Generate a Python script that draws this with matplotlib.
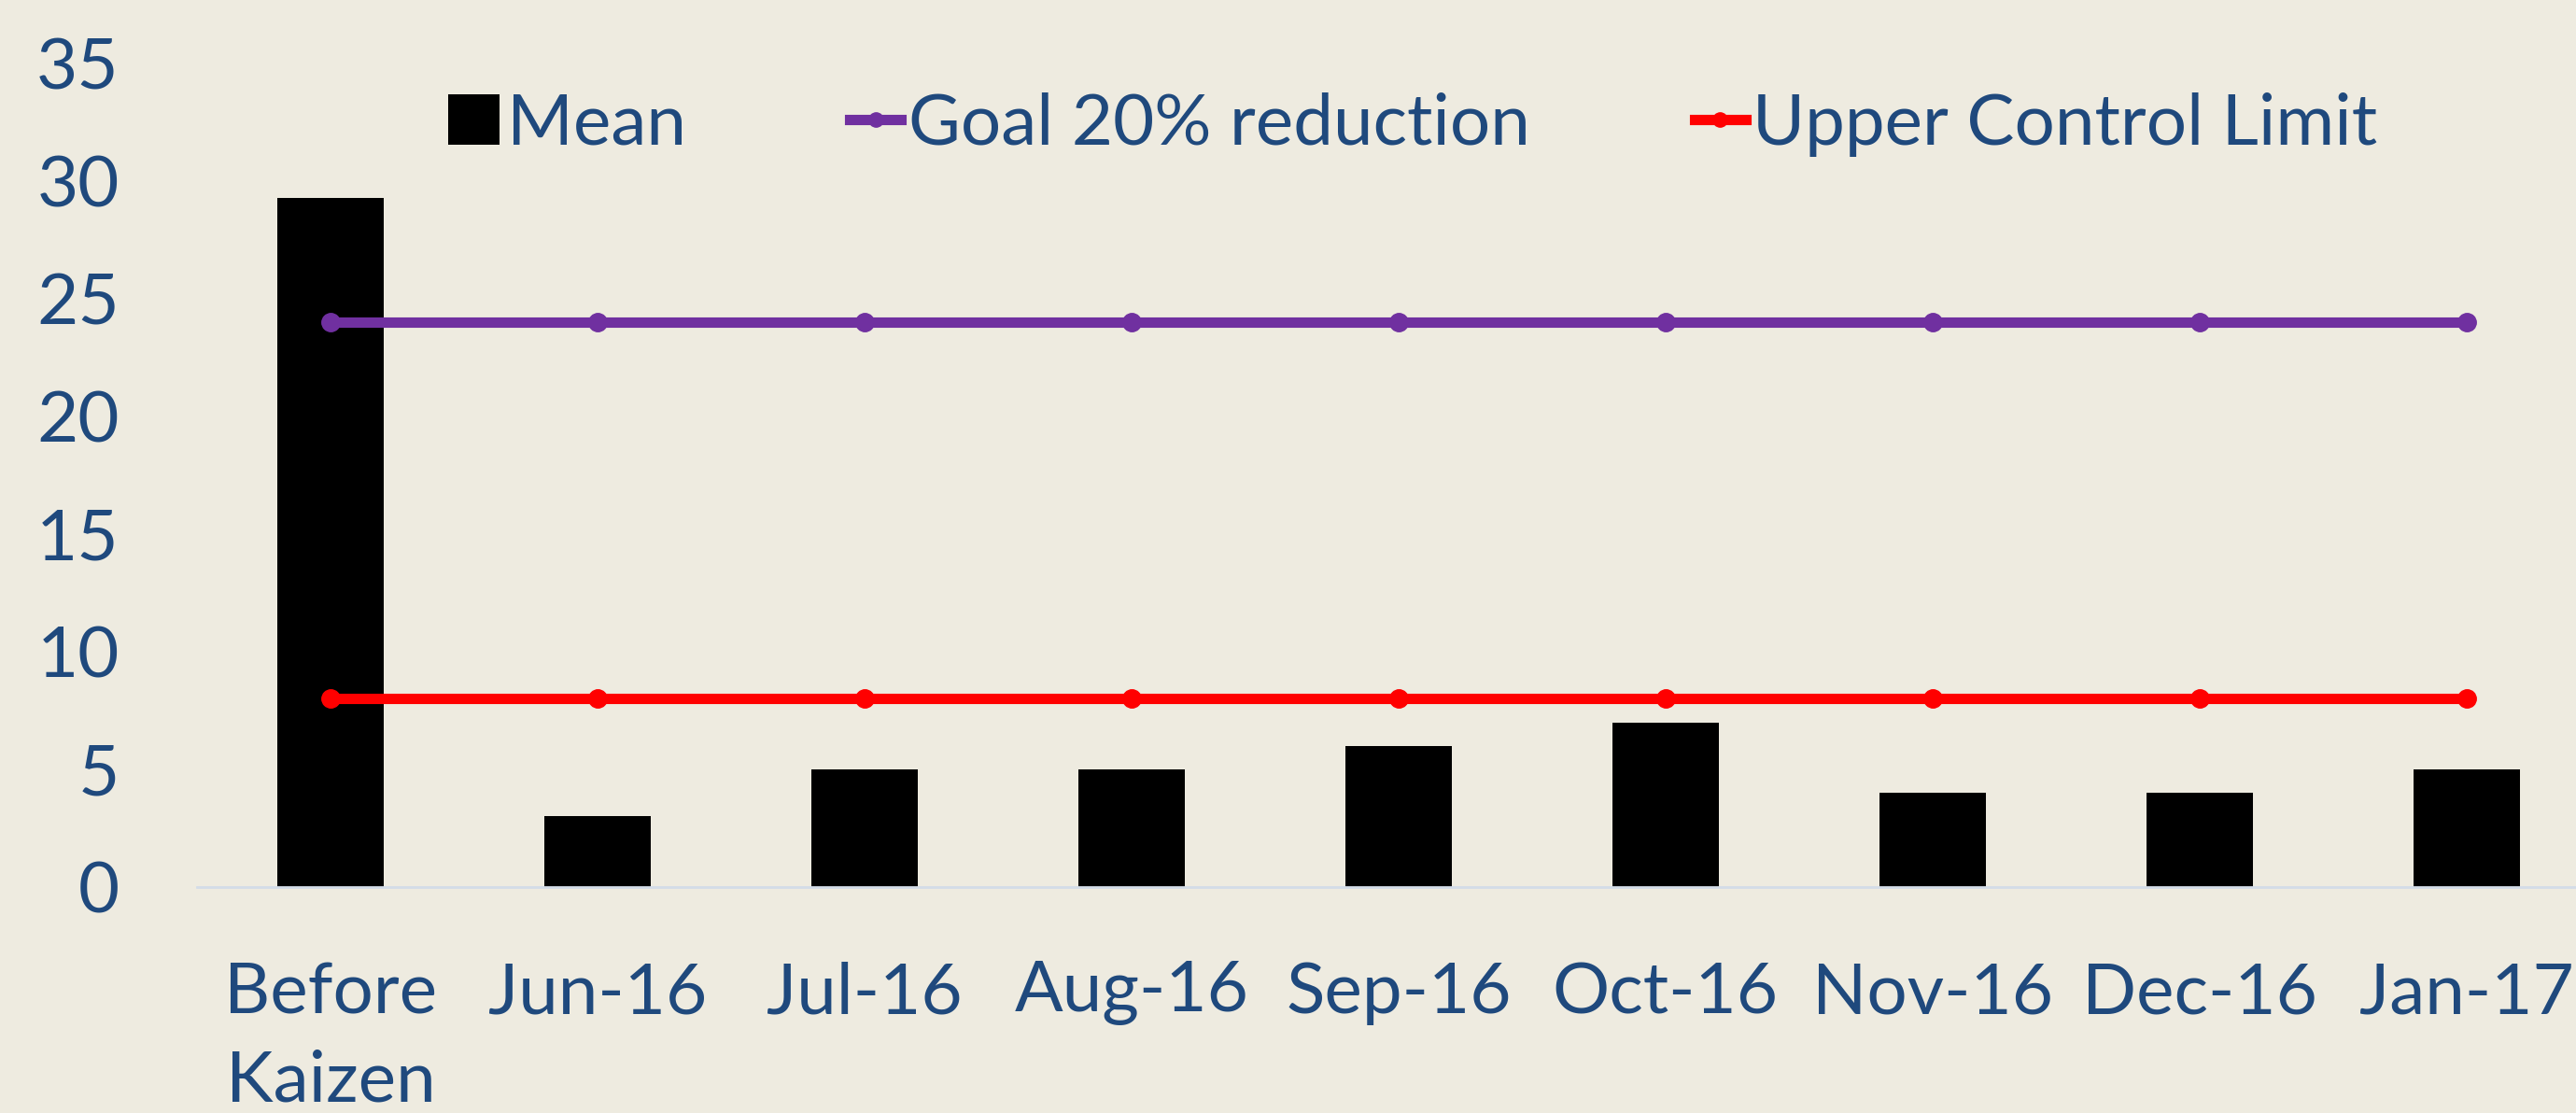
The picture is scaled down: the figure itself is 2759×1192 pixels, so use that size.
import matplotlib
matplotlib.use("Agg")
import matplotlib.pyplot as plt
from matplotlib.patches import Patch
from matplotlib.lines import Line2D
import numpy as np

# values
months = ["Before\nKaizen", "Jun-16", "Jul-16", "Aug-16", "Sep-16",
          "Oct-16", "Nov-16", "Dec-16", "Jan-17"]
mean_vals = [29.3, 3, 5, 5, 6, 7, 4, 4, 5]
goal_vals = [24, 24, 24, 24, 24, 24, 24, 24, 24]
ucl_vals = [8, 8, 8, 8, 8, 8, 8, 8, 8]
yticks = [0, 5, 10, 15, 20, 25, 30, 35]

bg = "#EEEBE0"
txt = "#1F497D"
purple = "#7030A0"
red = "#FF0000"

plt.rcParams["font.family"] = ["Lato", "DejaVu Sans"]

fig = plt.figure(figsize=(27.59, 11.92), dpi=100, facecolor=bg)
ax = fig.add_axes([211 / 2759, 242 / 1192, 1 - 211 / 2759, 882 / 1192])
ax.set_facecolor(bg)

x = np.arange(len(months))
ax.bar(x, mean_vals, width=0.4, color="black", zorder=2)
ax.plot(x, goal_vals, color=purple, lw=8, marker="o", ms=14,
        solid_capstyle="round", zorder=3)
ax.plot(x, ucl_vals, color=red, lw=8, marker="o", ms=14,
        solid_capstyle="round", zorder=3)

ax.set_xlim(-0.5, 8.41)
ax.set_ylim(0, 35)
ax.set_yticks(yticks)
ax.set_xticks(x)
ax.set_xticklabels(months, linespacing=1.45)

for s in ["top", "right", "left"]:
    ax.spines[s].set_visible(False)
ax.spines["bottom"].set_color("#D3DCE8")
ax.spines["bottom"].set_linewidth(2)

ax.tick_params(axis="y", length=0, pad=60, labelsize=55, labelcolor=txt)
ax.tick_params(axis="x", length=0, pad=57, labelsize=55, labelcolor=txt)

handles = [
    Patch(facecolor="black"),
    Line2D([], [], color=purple, lw=8, marker="o", ms=11),
    Line2D([], [], color=red, lw=8, marker="o", ms=11),
]
labels = ["Mean", "Goal 20% reduction", "Upper Control Limit"]
leg = fig.legend(handles, labels, loc="center left",
                 bbox_to_anchor=(480 / 2759, 1 - 133 / 1192),
                 ncol=3, frameon=False, fontsize=55,
                 handlelength=0.72, handleheight=0.72, handletextpad=0.1,
                 columnspacing=2.3, borderpad=0, borderaxespad=0)
for t in leg.get_texts():
    t.set_color(txt)

plt.savefig("out.png", dpi=100, facecolor=bg)
